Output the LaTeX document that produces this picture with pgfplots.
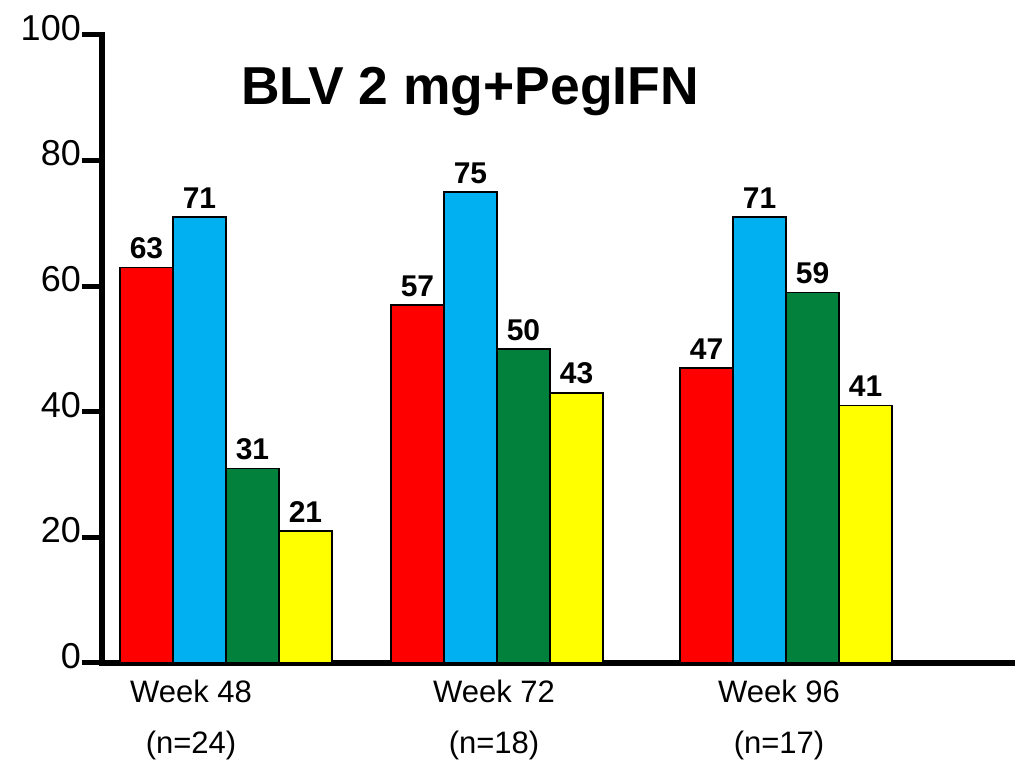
\documentclass[border=0pt]{standalone}
\usepackage{fontspec}
\setmainfont{Liberation Sans}
\usepackage{pgfplots}
\pgfplotsset{compat=1.18}

\definecolor{barred}{RGB}{255,0,0}
\definecolor{barblue}{RGB}{0,176,240}
\definecolor{bargreen}{RGB}{2,129,60}
\definecolor{baryellow}{RGB}{255,255,0}

\begin{document}
\begin{tikzpicture}[x=1pt,y=1pt]
\begin{axis}[
    at={(102pt,100pt)}, anchor=south west,
    scale only axis, width=913pt, height=628pt,
    xmin=102, xmax=1015, ymin=0, ymax=100,
    axis lines=left,
    axis line style={-, line width=6.5pt, line cap=rect},
    ytick={0,20,...,100},
    tick align=outside,
    major tick length=20pt,
    ytick style={line width=5pt, black},
    xtick={191,494,779},
    xticklabels={Week 48\\(n=24), Week 72\\(n=18), Week 96\\(n=17)},
    xtick style={draw=none},
    /pgf/number format/assume math mode=true,
    yticklabel style={font=\fontsize{36}{40}\selectfont, inner sep=1pt, yshift=7pt},
    xticklabel style={font=\fontsize{31}{51}\selectfont, align=center,
        anchor=north, inner sep=0pt, yshift=3pt},
    ybar=0pt, bar width=53pt,
    every axis plot/.append style={draw=black, line width=1.4pt},
    nodes near coords,
    every node near coord/.append style={font=\fontsize{30}{36}\selectfont\bfseries,
        inner sep=0pt, yshift=8pt, black},
    clip=false,
]
% response rates (%) at each visit, group centres in axis units
\addplot[fill=barred]    coordinates {(226,63) (497,57) (786,47)};
\addplot[fill=barblue]   coordinates {(226,71) (497,75) (786,71)};
\addplot[fill=bargreen]  coordinates {(226,31) (497,50) (786,59)};
\addplot[fill=baryellow] coordinates {(226,21) (497,43) (786,41)};
\end{axis}
\node[anchor=base, font=\fontsize{53.4}{60}\selectfont\bfseries] at (470pt,658pt) {BLV 2 mg+PegIFN};
\pgfresetboundingbox
\path[use as bounding box] (0,0) rectangle (1015pt,763pt);
\end{tikzpicture}
\end{document}
